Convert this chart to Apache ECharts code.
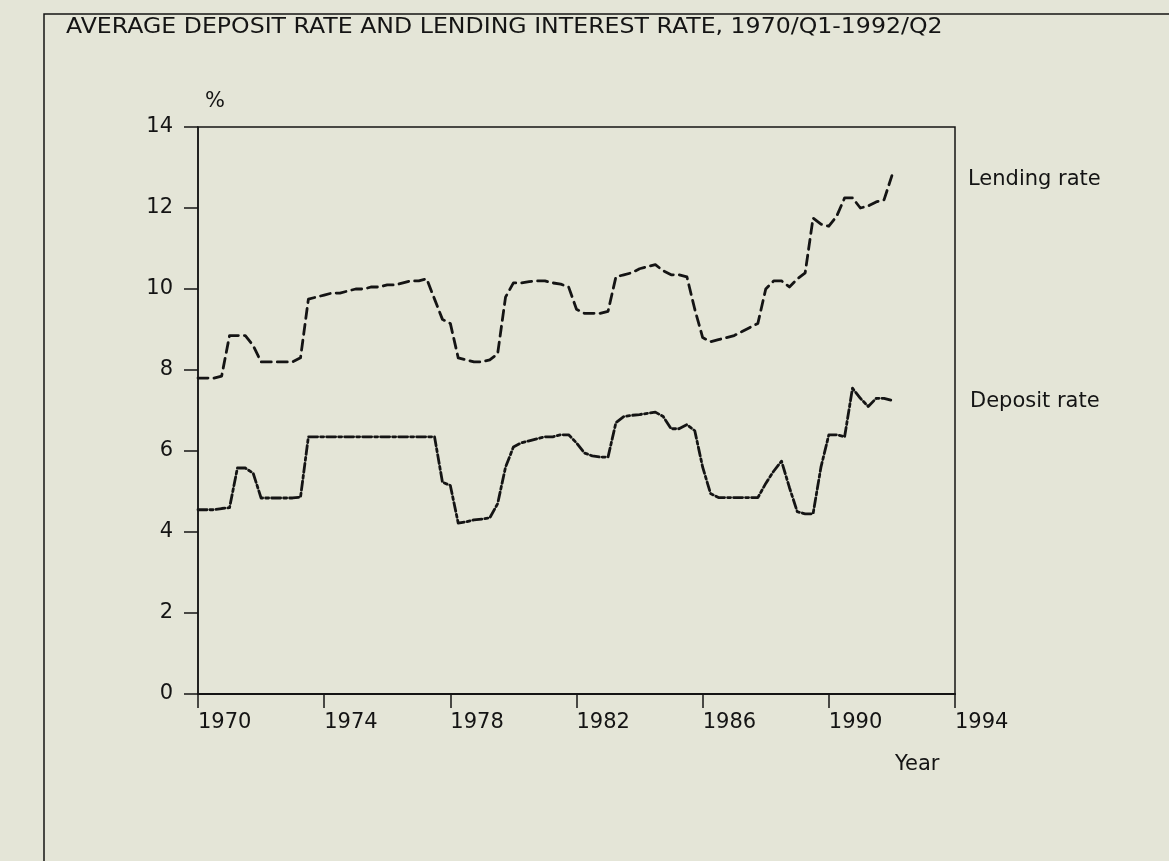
<!DOCTYPE html>
<html>
<head>
<meta charset="utf-8">
<script src="https://cdn.jsdelivr.net/npm/echarts@6/dist/echarts.min.js"></script>
<style>
  html, body { margin: 0; padding: 0; background: #e4e5d7; }
  #chart { width: 1169px; height: 861px; }
</style>
</head>
<body>
<div id="chart"></div>
<script>
// quarterly series, 1970 Q1 onwards
const startYear = 1970
const lendingRate = [
  7.8, 7.8, 7.8, 7.85, 8.85, 8.85, 8.85, 8.6, 8.2, 8.2, 8.2, 8.2, 8.2, 8.3,
  9.75, 9.8, 9.85, 9.9, 9.9, 9.95, 10.0, 10.0, 10.05, 10.05, 10.1, 10.1, 10.15, 10.2, 10.2, 10.25,
  9.75, 9.25, 9.15, 8.3, 8.25, 8.2, 8.2, 8.25, 8.4, 9.8,
  10.15, 10.15, 10.18, 10.2, 10.2, 10.15, 10.12, 10.05, 9.5, 9.4, 9.4, 9.4, 9.45,
  10.3, 10.35, 10.4, 10.5, 10.55, 10.6, 10.45, 10.35, 10.35, 10.3,
  9.5, 8.8, 8.7, 8.75, 8.8, 8.85, 8.95, 9.05, 9.15,
  10.0, 10.2, 10.2, 10.05, 10.25, 10.4,
  11.75, 11.6, 11.55, 11.8, 12.25, 12.25, 12.0, 12.05, 12.15, 12.2, 12.8
]
const depositRate = [
  4.55, 4.55, 4.55, 4.58, 4.6, 5.58, 5.58, 5.45, 4.84, 4.84, 4.84, 4.84, 4.84, 4.86,
  6.35, 6.35, 6.35, 6.35, 6.35, 6.35, 6.35, 6.35, 6.35, 6.35, 6.35, 6.35, 6.35, 6.35, 6.35, 6.35, 6.35,
  5.23, 5.15, 4.22, 4.25, 4.3, 4.32, 4.35, 4.7, 5.6,
  6.1, 6.2, 6.25, 6.3, 6.35, 6.35, 6.4, 6.4, 6.2, 5.95, 5.88, 5.85, 5.85,
  6.7, 6.85, 6.88, 6.9, 6.93, 6.96, 6.85, 6.55, 6.55, 6.65,
  6.5, 5.6, 4.95, 4.85, 4.85, 4.85, 4.85, 4.85, 4.85,
  5.2, 5.5, 5.75, 5.1, 4.5, 4.45, 4.45, 5.6,
  6.4, 6.4, 6.35, 7.55, 7.3, 7.1, 7.3, 7.3, 7.25
]
const yearTicks = [1970, 1974, 1978, 1982, 1986, 1990, 1994]
const rateTicks = [0, 2, 4, 6, 8, 10, 12, 14]

const titleText = 'AVERAGE DEPOSIT RATE AND LENDING INTEREST RATE, 1970/Q1-1992/Q2'
const ink = '#141414'
const font = 'DejaVu Sans'

const quarterPos = lendingRate.map((_, i) => startYear + i / 4)
const toPairs = vals => vals.map((v, i) => [quarterPos[i], v])

const chart = echarts.init(document.getElementById('chart'))

chart.setOption({
  backgroundColor: '#e4e5d7',
  animation: false,
  grid: {
    left: 198, top: 127, width: 757, height: 567,
    show: true, borderColor: ink, borderWidth: 1.5,
    containLabel: false, outerBoundsMode: 'none'
  },
  xAxis: {
    type: 'value',
    min: yearTicks[0],
    max: yearTicks[yearTicks.length - 1],
    interval: 4,
    splitLine: { show: false },
    axisLine: { show: true, onZero: false, lineStyle: { color: ink, width: 2 } },
    axisTick: { show: true, inside: false, length: 14, lineStyle: { color: ink, width: 1.5 } },
    axisLabel: {
      formatter: v => String(v),
      align: 'left', margin: 18,
      color: ink, fontSize: 21, fontFamily: font
    }
  },
  yAxis: {
    type: 'value',
    min: rateTicks[0],
    max: rateTicks[rateTicks.length - 1],
    interval: 2,
    splitLine: { show: false },
    axisLine: { show: true, onZero: false, lineStyle: { color: ink, width: 1.5 } },
    axisTick: { show: true, inside: false, length: 14, lineStyle: { color: ink, width: 1.5 } },
    axisLabel: { margin: 25, color: ink, fontSize: 21, fontFamily: font }
  },
  series: [
    {
      name: 'Lending rate',
      type: 'line',
      data: toPairs(lendingRate),
      showSymbol: false,
      lineStyle: { color: ink, width: 2.8, type: [10, 6], cap: 'round', join: 'round' }
    },
    {
      name: 'Deposit rate',
      type: 'line',
      data: toPairs(depositRate),
      showSymbol: false,
      lineStyle: { color: ink, width: 2.8, type: [9, 3, 3, 3], cap: 'round', join: 'round' }
    }
  ],
  graphic: [
    // outer frame of the printed figure
    {
      type: 'rect', silent: true,
      shape: { x: 44, y: 14, width: 1200, height: 900 },
      style: { fill: null, stroke: ink, lineWidth: 1.5 }
    },
    {
      type: 'text', x: 66, y: 28, scaleX: 1.125,
      style: { text: titleText, fill: ink, font: '21px "DejaVu Sans"', textVerticalAlign: 'middle' }
    },
    {
      type: 'text', x: 205, y: 102,
      style: { text: '%', fill: ink, font: '21px "DejaVu Sans"', textVerticalAlign: 'middle' }
    },
    {
      type: 'text', x: 895, y: 765,
      style: { text: 'Year', fill: ink, font: '21px "DejaVu Sans"', textVerticalAlign: 'middle' }
    },
    {
      type: 'text', x: 968, y: 180,
      style: { text: 'Lending rate', fill: ink, font: '21px "DejaVu Sans"', textVerticalAlign: 'middle' }
    },
    {
      type: 'text', x: 970, y: 402,
      style: { text: 'Deposit rate', fill: ink, font: '21px "DejaVu Sans"', textVerticalAlign: 'middle' }
    }
  ]
})
</script>
</body>
</html>
